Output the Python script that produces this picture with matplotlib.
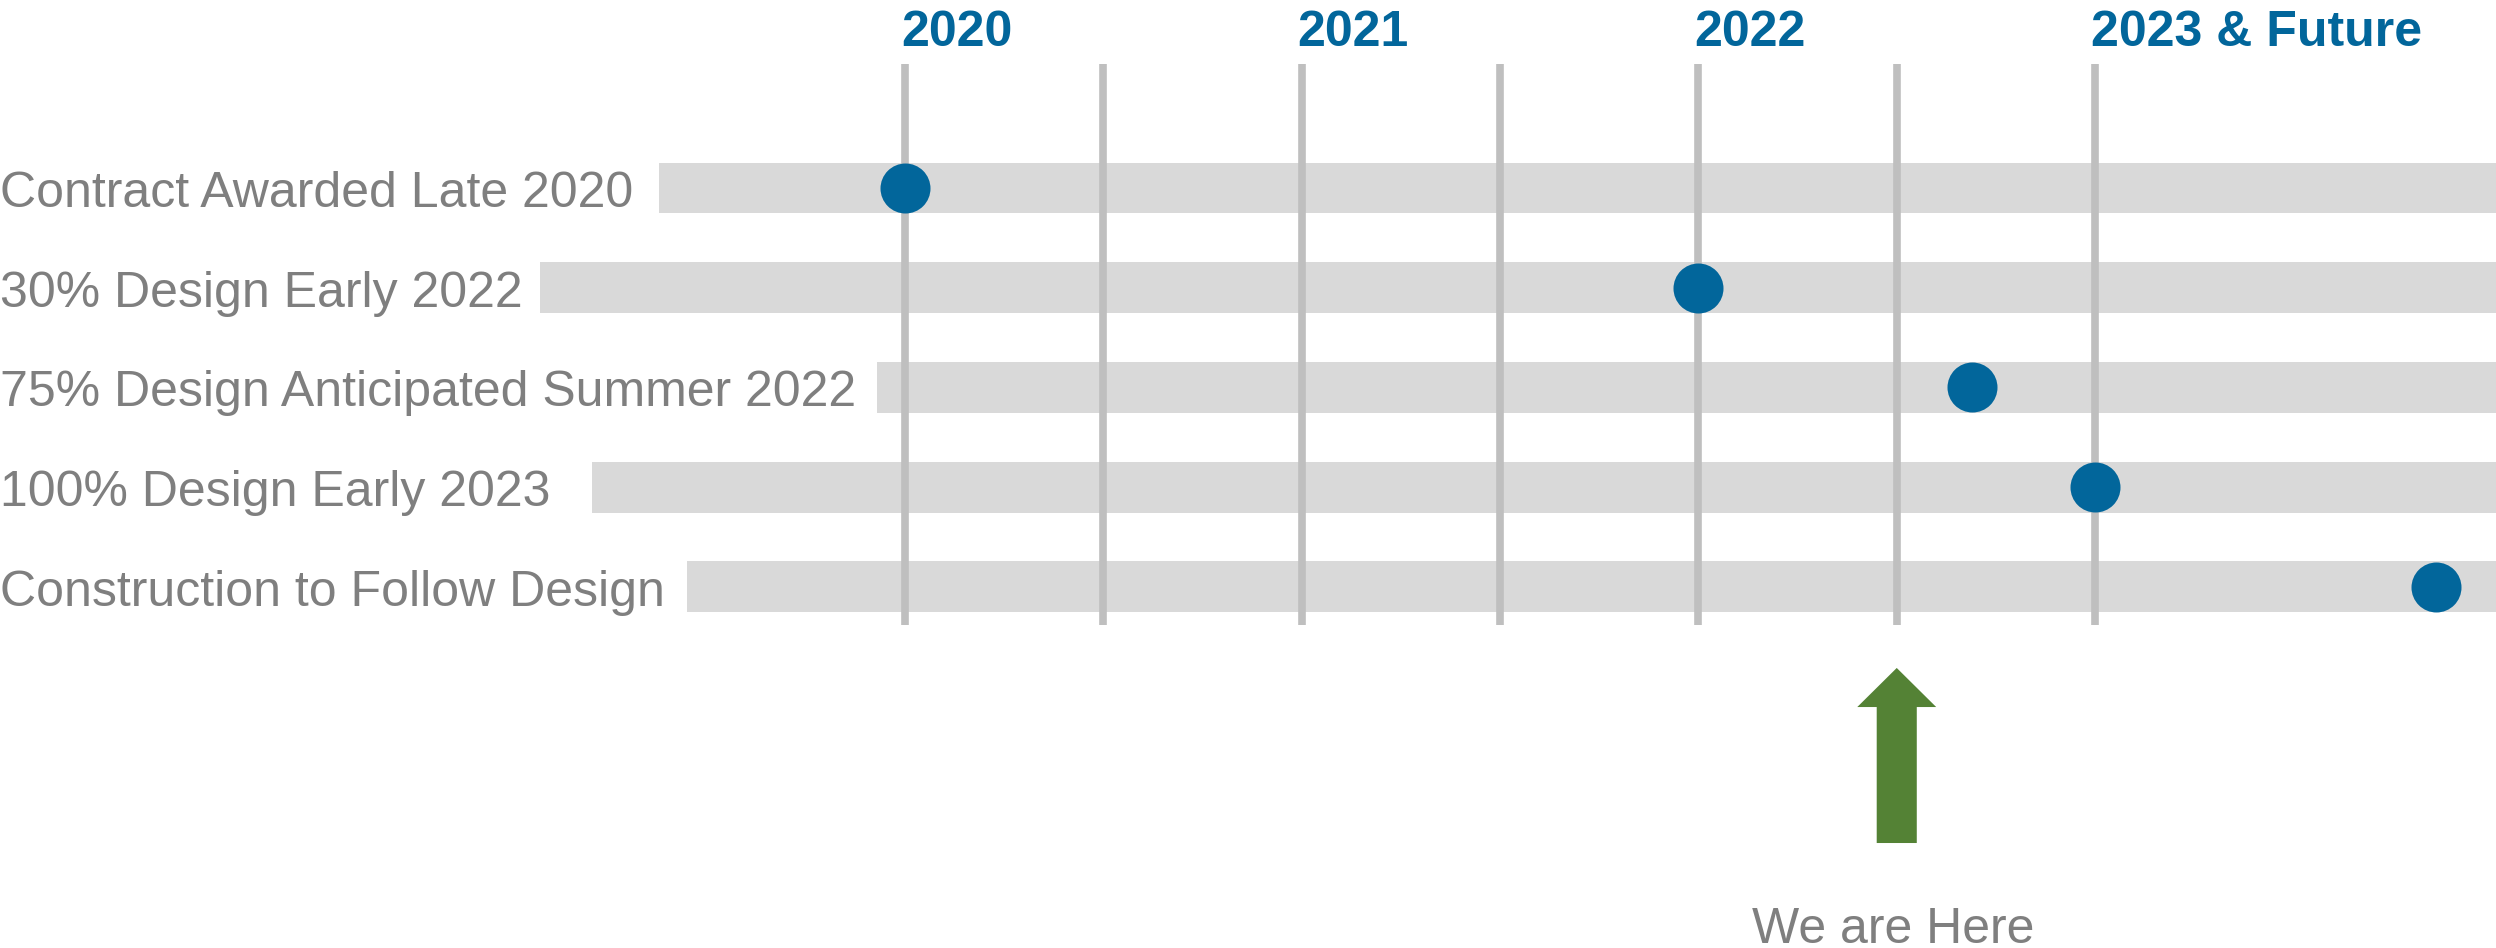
import numpy as np
import matplotlib.pyplot as plt

# milestones
labels = ['Contract Awarded Late 2020', '30% Design Early 2022',
          '75% Design Anticipated Summer 2022', '100% Design Early 2023',
          'Construction to Follow Design']
milestone_x = [2020.0, 2022.0, 2022.69, 2023.0, 2023.86]
bar_start = [2019.38, 2019.08, 2019.93, 2019.21, 2019.45]
bar_end = 2024.2

year_labels = ['2020', '2021', '2022', '2023 & Future']
year_x = [2020, 2021, 2022, 2023]
grid_x = np.arange(2020, 2023.01, 0.5)
now_x = 2022.5

blue = '#02669b'
gray_txt = '#7f7f7f'
bar_gray = '#d9d9d9'
grid_gray = '#bfbfbf'
green = '#548235'

plt.rcParams['font.family'] = ['Liberation Sans', 'DejaVu Sans']

fig = plt.figure(figsize=(24.96, 9.48), dpi=100)
ax = fig.add_axes([0, 0, 1, 1])
ax.set_xlim(2017.7187, 2024.0106)
ax.set_ylim(7.623, -1.886)
ax.axis('off')

rows = np.arange(len(labels))

# gray bands
ax.barh(rows, [bar_end - s for s in bar_start], left=bar_start, height=0.51,
        color=bar_gray, zorder=1)

# half-year grid lines
ax.vlines(grid_x, -1.244, 4.383, color=grid_gray, lw=5.5, zorder=2)

# milestone dots
ax.scatter(milestone_x, rows, s=36**2, color=blue, zorder=3, linewidths=0)

# row labels
for r, lab in zip(rows, labels):
    ax.text(2017.7187, r + 0.19, lab, ha='left', va='baseline',
            fontsize=36, color=gray_txt)

# year headers
for x, lab in zip(year_x, year_labels):
    ax.text(x - 0.01, -1.428, lab, ha='left', va='baseline', fontsize=36,
            fontweight='bold', color=blue)

# "we are here" arrow
ax.arrow(now_x, 6.57, 0, -(6.57 - 4.814), width=0.101, head_width=0.199,
         head_length=0.392, length_includes_head=True, color=green, lw=0,
         zorder=3)
ax.text(now_x - 0.01, 7.57, 'We are Here', ha='center', va='baseline',
        fontsize=36, color=gray_txt)

fig.savefig('out.png', dpi=100)
